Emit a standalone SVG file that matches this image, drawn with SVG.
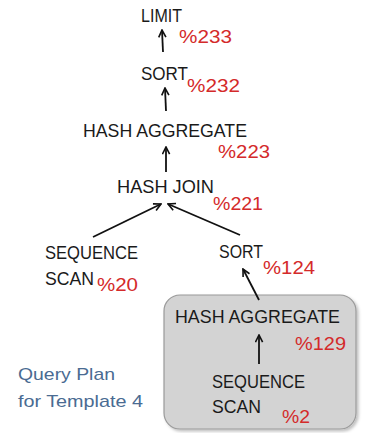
<svg xmlns="http://www.w3.org/2000/svg" width="365" height="433" viewBox="0 0 365 433">
<style>
.lbl{font-family:"Liberation Sans",Arial,sans-serif;font-size:17.5px;fill:#1a1a1a}
.pct{font-family:"Liberation Sans",Arial,sans-serif;font-size:19px;fill:#d42a2a}
.cap{font-family:"Liberation Sans",Arial,sans-serif;font-size:17px;fill:#4a6b92}
.edge{stroke:#111;stroke-width:1.8;fill:none;marker-end:url(#ah)}
</style>
<defs>
<marker id="ah" viewBox="0 0 10 10" refX="9" refY="5" markerWidth="5" markerHeight="5" orient="auto" markerUnits="strokeWidth">
<polyline points="1,1 9,5 1,9" fill="none" stroke="#111" stroke-width="1.8"/>
</marker>
<filter id="sh" x="-5%" y="-5%" width="115%" height="115%">
<feDropShadow dx="2" dy="2" stdDeviation="1.5" flood-color="#000" flood-opacity="0.25"/>
</filter>
</defs>
<g id="subplan">
<rect x="164" y="295" width="192" height="134" rx="16" fill="#d3d3d3" stroke="#9a9a9a" stroke-width="1.2" filter="url(#sh)"/>
</g>
<g id="connectors">
<line class="edge" x1="163" y1="52" x2="162" y2="30"/>
<line class="edge" x1="166" y1="111" x2="165" y2="88"/>
<line class="edge" x1="166" y1="172" x2="166" y2="147"/>
<line class="edge" x1="93" y1="237" x2="161" y2="204"/>
<line class="edge" x1="240" y1="235" x2="168" y2="204"/>
<line class="edge" x1="259" y1="300" x2="243" y2="269"/>
<line class="edge" x1="259" y1="364" x2="259" y2="335"/>
</g>
<g id="limit">
<text class="lbl" x="141" y="22" textLength="41" lengthAdjust="spacingAndGlyphs">LIMIT</text>
<text class="pct" x="179" y="43" textLength="53" lengthAdjust="spacingAndGlyphs">%233</text>
</g>
<g id="sort1">
<text class="lbl" x="141" y="80" textLength="47" lengthAdjust="spacingAndGlyphs">SORT</text>
<text class="pct" x="187" y="92" textLength="53" lengthAdjust="spacingAndGlyphs">%232</text>
</g>
<g id="hashagg1">
<text class="lbl" x="83" y="137" textLength="164" lengthAdjust="spacingAndGlyphs">HASH AGGREGATE</text>
<text class="pct" x="218" y="158" textLength="52" lengthAdjust="spacingAndGlyphs">%223</text>
</g>
<g id="hashjoin">
<text class="lbl" x="117" y="193" textLength="97" lengthAdjust="spacingAndGlyphs">HASH JOIN</text>
<text class="pct" x="213" y="210" textLength="50" lengthAdjust="spacingAndGlyphs">%221</text>
</g>
<g id="seqscan1">
<text class="lbl" x="45" y="259" textLength="93" lengthAdjust="spacingAndGlyphs">SEQUENCE</text>
<text class="lbl" x="45" y="285" textLength="49" lengthAdjust="spacingAndGlyphs">SCAN</text>
<text class="pct" x="97" y="291" textLength="41" lengthAdjust="spacingAndGlyphs">%20</text>
</g>
<g id="sort2">
<text class="lbl" x="219" y="258" textLength="44" lengthAdjust="spacingAndGlyphs">SORT</text>
<text class="pct" x="263" y="274" textLength="52" lengthAdjust="spacingAndGlyphs">%124</text>
</g>
<g id="hashagg2">
<text class="lbl" x="175" y="323" textLength="165" lengthAdjust="spacingAndGlyphs">HASH AGGREGATE</text>
<text class="pct" x="295" y="350" textLength="51" lengthAdjust="spacingAndGlyphs">%129</text>
</g>
<g id="seqscan2">
<text class="lbl" x="212" y="388" textLength="93" lengthAdjust="spacingAndGlyphs">SEQUENCE</text>
<text class="lbl" x="212" y="413" textLength="49" lengthAdjust="spacingAndGlyphs">SCAN</text>
<text class="pct" x="282" y="423" textLength="28" lengthAdjust="spacingAndGlyphs">%2</text>
</g>
<g id="caption">
<text class="cap" x="18" y="380" textLength="97" lengthAdjust="spacingAndGlyphs">Query Plan</text>
<text class="cap" x="18" y="407" textLength="125" lengthAdjust="spacingAndGlyphs">for Template 4</text>
</g>
</svg>
